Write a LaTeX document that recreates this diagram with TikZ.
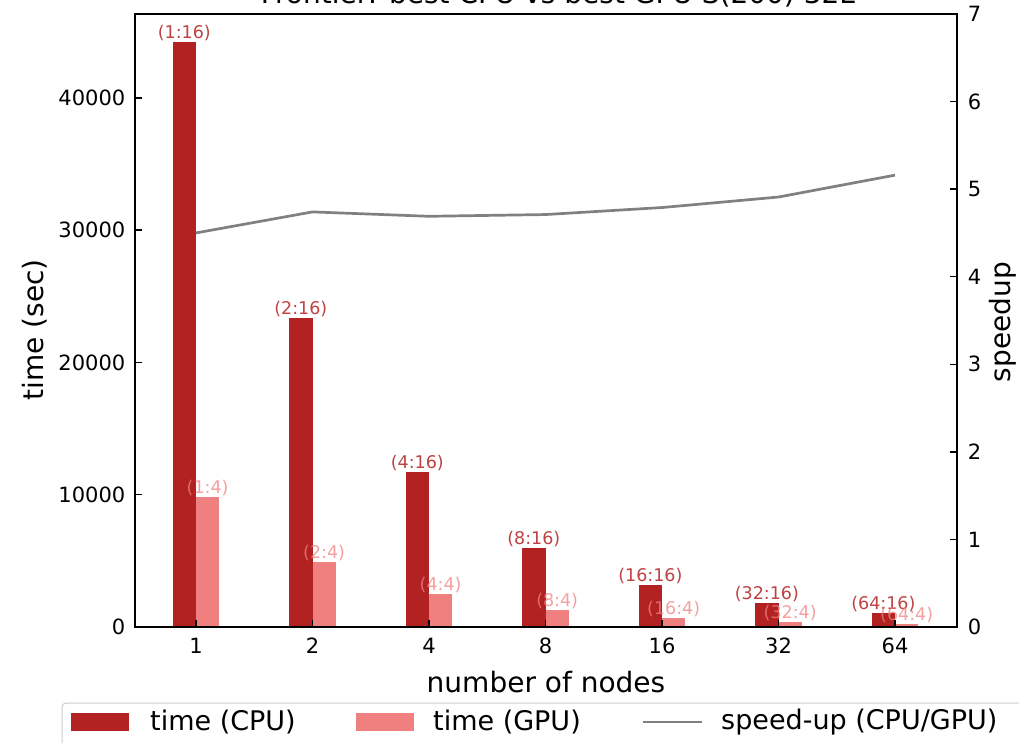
\documentclass[tikz,border=0pt]{standalone}
\usepackage{fontspec}
\setmainfont{DejaVu Sans}
\usepackage{tikz}
\usetikzlibrary{positioning}
\definecolor{cpured}{HTML}{B22222}
\definecolor{gpured}{HTML}{F08080}
\definecolor{spdgray}{HTML}{808080}

\begin{document}
\begin{tikzpicture}[
  x=1pt, y=-1pt,
  ticklab/.style={font=\fontsize{21}{24}\selectfont, inner sep=0pt},
  axlab/.style={font=\fontsize{28}{32}\selectfont, inner sep=0pt},
  leglab/.style={font=\fontsize{27}{30}\selectfont, inner sep=0pt, anchor=west},
  cpubar/.style={fill=cpured},
  gpubar/.style={fill=gpured},
  cpulab/.style={font=\fontsize{17.5}{20}\selectfont, text=cpured, text opacity=0.85, anchor=south, inner sep=1pt},
  gpulab/.style={font=\fontsize{17.5}{20}\selectfont, text=gpured, text opacity=0.75, anchor=south, inner sep=1pt},
  spdline/.style={spdgray, line width=2.7pt},
  frame/.style={black, line width=1.5pt},
]
  \useasboundingbox (0,0) rectangle (1019,743);

  % title (cut by the page edge)
  \node[axlab, anchor=base] (title) at (558,4) {Frontier: best CPU vs best GPU S(200) 32L};

  % bars, time in 1000 sec
  \begin{scope}[shift={(196,627)}, x=116.5pt, y=13.23pt]
    \fill[cpubar] (-0.2,0) rectangle (0,44.22);
    \fill[gpubar] (0,0) rectangle (0.2,9.83);
    \fill[cpubar] (0.8,0) rectangle (1,23.36);
    \fill[gpubar] (1,0) rectangle (1.2,4.93);
    \fill[cpubar] (1.8,0) rectangle (2,11.72);
    \fill[gpubar] (2,0) rectangle (2.2,2.50);
    \fill[cpubar] (2.8,0) rectangle (3,5.97);
    \fill[gpubar] (3,0) rectangle (3.2,1.27);
    \fill[cpubar] (3.8,0) rectangle (4,3.17);
    \fill[gpubar] (4,0) rectangle (4.2,0.66);
    \fill[cpubar] (4.8,0) rectangle (5,1.80);
    \fill[gpubar] (5,0) rectangle (5.2,0.37);
    \fill[cpubar] (5.8,0) rectangle (6,1.05);
    \fill[gpubar] (6,0) rectangle (6.2,0.20);

    \node[cpulab] (cpu1) at (-0.1,44.22) {(1:16)};
    \node[gpulab] (gpu1) at (0.1,9.83) {(1:4)};
    \node[cpulab] (cpu2) at (0.9,23.36) {(2:16)};
    \node[gpulab] (gpu2) at (1.1,4.93) {(2:4)};
    \node[cpulab] (cpu4) at (1.9,11.72) {(4:16)};
    \node[gpulab] (gpu4) at (2.1,2.50) {(4:4)};
    \node[cpulab] (cpu8) at (2.9,5.97) {(8:16)};
    \node[gpulab] (gpu8) at (3.1,1.27) {(8:4)};
    \node[cpulab] (cpu16) at (3.9,3.17) {(16:16)};
    \node[gpulab] (gpu16) at (4.1,0.66) {(16:4)};
    \node[cpulab] (cpu32) at (4.9,1.80) {(32:16)};
    \node[gpulab] (gpu32) at (5.1,0.37) {(32:4)};
    \node[cpulab] (cpu64) at (5.9,1.05) {(64:16)};
    \node[gpulab] (gpu64) at (6.1,0.20) {(64:4)};
  \end{scope}

  % speed-up on the right axis
  \begin{scope}[shift={(196,627)}, x=116.5pt, y=87.57pt]
    \coordinate (s1) at (0,4.50);
    \coordinate (s2) at (1,4.74);
    \coordinate (s4) at (2,4.69);
    \coordinate (s8) at (3,4.71);
    \coordinate (s16) at (4,4.79);
    \coordinate (s32) at (5,4.91);
    \coordinate (s64) at (6,5.16);
    \draw[spdline] (s1) -- (s2) -- (s4) -- (s8) -- (s16) -- (s32) -- (s64);
  \end{scope}

  % axes
  \draw[frame] (135,14) rectangle (957,627);

  \draw[frame] (142,627) -- (135,627) node[ticklab, anchor=east, xshift=-9pt] (yl0) {0};
  \draw[frame] (142,494.7) -- (135,494.7) node[ticklab, anchor=east, xshift=-9pt] (yl1) {10000};
  \draw[frame] (142,362.4) -- (135,362.4) node[ticklab, anchor=east, xshift=-9pt] (yl2) {20000};
  \draw[frame] (142,230.1) -- (135,230.1) node[ticklab, anchor=east, xshift=-9pt] (yl3) {30000};
  \draw[frame] (142,97.8) -- (135,97.8) node[ticklab, anchor=east, xshift=-9pt] (yl4) {40000};

  \draw[frame] (950,627) -- (957,627) node[ticklab, anchor=west, xshift=10pt] (sl0) {0};
  \draw[frame] (950,539.4) -- (957,539.4) node[ticklab, anchor=west, xshift=10pt] (sl1) {1};
  \draw[frame] (950,451.9) -- (957,451.9) node[ticklab, anchor=west, xshift=10pt] (sl2) {2};
  \draw[frame] (950,364.3) -- (957,364.3) node[ticklab, anchor=west, xshift=10pt] (sl3) {3};
  \draw[frame] (950,276.7) -- (957,276.7) node[ticklab, anchor=west, xshift=10pt] (sl4) {4};
  \draw[frame] (950,189.2) -- (957,189.2) node[ticklab, anchor=west, xshift=10pt] (sl5) {5};
  \draw[frame] (950,101.6) -- (957,101.6) node[ticklab, anchor=west, xshift=10pt] (sl6) {6};
  \draw[frame] (950,14) -- (957,14) node[ticklab, anchor=west, xshift=10pt] (sl7) {7};

  \draw[frame] (196,620) -- (196,627) node[ticklab, below=10pt] (xl1) {1};
  \draw[frame] (312.5,620) -- (312.5,627) node[ticklab, below=10pt] (xl2) {2};
  \draw[frame] (429,620) -- (429,627) node[ticklab, below=10pt] (xl4) {4};
  \draw[frame] (545.5,620) -- (545.5,627) node[ticklab, below=10pt] (xl8) {8};
  \draw[frame] (662,620) -- (662,627) node[ticklab, below=10pt] (xl16) {16};
  \draw[frame] (778.5,620) -- (778.5,627) node[ticklab, below=10pt] (xl32) {32};
  \draw[frame] (895,620) -- (895,627) node[ticklab, below=10pt] (xl64) {64};

  \node[axlab, rotate=90] (ylab) at (35,330) {time (sec)};
  \node[axlab, rotate=90] (slab) at (1003,322) {speedup};
  \node[axlab] (xlab) at (546,682) {number of nodes};

  % legend (cut by the page edge)
  \draw[black!20, line width=1pt, rounded corners=4pt] (62,703) rectangle (1035,780);
  \fill[cpubar] (71,713) rectangle (129,731);
  \node[leglab] (legcpu) at (150,722) {time (CPU)};
  \fill[gpubar] (356,713) rectangle (414,731);
  \node[leglab] (leggpu) at (433,722) {time (GPU)};
  \coordinate (legl) at (643,722);
  \coordinate (legr) at (702,722);
  \draw[spdline] (legl) -- (legr);
  \node[leglab] (legspd) at (721,722) {speed-up (CPU/GPU)};
\end{tikzpicture}
\end{document}
